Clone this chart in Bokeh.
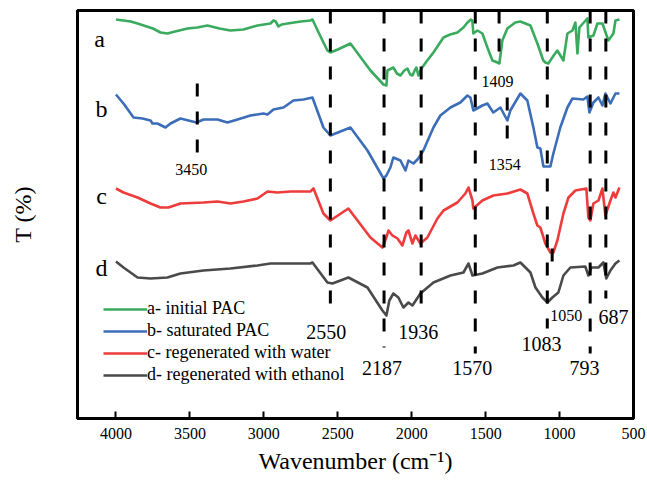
from bokeh.plotting import figure
from bokeh.models import Range1d, FixedTicker, Legend, LegendItem, ColumnDataSource
from bokeh.embed import file_html
from bokeh.resources import INLINE
from bokeh.core.properties import value

# ---------------- data ----------------
wn_a = [4000, 3900, 3854, 3750, 3699, 3652, 3600, 3516, 3450, 3381, 3300, 3226, 3138, 3043, 2955, 2935,
        2920, 2901, 2880, 2840, 2750, 2685, 2671, 2620, 2570, 2550, 2500, 2414, 2279, 2191, 2171, 2164,
        2124, 2100, 2076, 2050, 2029, 2010, 1995, 1980, 1968, 1955, 1934, 1900, 1853, 1785, 1740, 1691,
        1650, 1623, 1600, 1590, 1583, 1556, 1522, 1488, 1454, 1420, 1407, 1387, 1353, 1300, 1265, 1197,
        1150, 1110, 1096, 1076, 1040, 1015, 974, 947, 913, 893, 879, 866, 812, 805, 771, 744, 710, 670,
        636, 622, 595]
t_a = [399, 397, 395, 390, 386, 385, 387, 390, 391, 393, 390, 388, 389, 393, 395, 398,
       397, 392, 394, 395, 397, 398, 399, 383, 368, 366, 369, 375, 348, 334, 333, 348,
       351, 345, 343, 348, 350, 344, 343, 348, 351, 343, 350, 357, 366, 381, 384, 386,
       391, 396, 399, 398, 385, 388, 385, 371, 358, 356, 355, 378, 390, 396, 397, 393,
       375, 358, 356, 355, 363, 368, 358, 385, 388, 396, 365, 391, 400, 381, 383, 395, 395, 378,
       385, 398, 399]

wn_b = [4000, 3949, 3881, 3821, 3766, 3753, 3719, 3665, 3631, 3564, 3455, 3408, 3313, 3246, 3178, 3090,
        3002, 2975, 2935, 2867, 2800, 2732, 2671, 2597, 2550, 2482, 2414, 2299, 2191, 2171, 2144, 2124,
        2076, 2042, 2022, 1988, 1955, 1921, 1853, 1806, 1738, 1671, 1623, 1603, 1583, 1522, 1488, 1448,
        1400, 1353, 1333, 1265, 1218, 1177, 1150, 1130, 1109, 1062, 1042, 995, 947, 913, 839, 812, 798,
        771, 737, 710, 690, 656, 622, 595]
t_b = [324, 315, 301, 300, 298, 295, 295, 291, 295, 300, 296, 299, 299, 296, 299, 303,
       305, 304, 309, 311, 318, 319, 321, 291, 283, 287, 291, 268, 240, 243, 251, 261,
       258, 248, 258, 255, 260, 268, 291, 303, 311, 316, 323, 321, 308, 313, 315, 306,
       311, 298, 308, 325, 318, 291, 271, 270, 252, 252, 265, 291, 311, 320, 319, 322, 306,
       316, 321, 313, 325, 315, 325, 325]

wn_c = [4000, 3949, 3854, 3766, 3699, 3645, 3564, 3408, 3313, 3226, 3138, 3043, 2975, 2908, 2820, 2685,
        2664, 2597, 2550, 2428, 2279, 2198, 2171, 2157, 2130, 2096, 2063, 2036, 2022, 1995, 1975, 1941,
        1894, 1826, 1785, 1691, 1637, 1616, 1589, 1583, 1522, 1448, 1353, 1265, 1218, 1177, 1150, 1130,
        1096, 1062, 1042, 1015, 974, 940, 893, 819, 805, 792, 771, 737, 710, 690, 656, 636, 622, 595]
t_c = [230, 226, 221, 215, 211, 211, 215, 216, 217, 215, 217, 220, 227, 226, 227, 227,
       230, 205, 198, 210, 181, 171, 181, 188, 183, 180, 173, 186, 188, 175, 183, 175,
       181, 200, 208, 216, 225, 231, 218, 210, 218, 223, 225, 229, 225, 205, 193, 191,
       175, 166, 166, 178, 205, 221, 228, 230, 201, 198, 215, 218, 230, 203, 218, 226, 221, 231]

wn_d = [4000, 3949, 3854, 3766, 3652, 3564, 3408, 3226, 3043, 2955, 2685, 2671, 2570, 2536, 2428, 2299,
        2198, 2171, 2151, 2124, 2090, 2056, 2022, 1995, 1968, 1941, 1853, 1738, 1650, 1616, 1589, 1522,
        1420, 1312, 1265, 1197, 1163, 1116, 1082, 1049, 1008, 974, 927, 826, 805, 785, 737, 704, 684,
        656, 622, 595]
t_d = [157, 151, 141, 140, 141, 145, 148, 150, 153, 155, 155, 156, 136, 135, 141, 131,
       108, 103, 118, 125, 121, 111, 116, 113, 119, 125, 136, 143, 146, 155, 143, 145,
       151, 153, 156, 146, 131, 121, 116, 121, 126, 143, 151, 152, 143, 151, 151, 156, 140,
       148, 155, 158]

series_labels = ["a- initial PAC", "b- saturated PAC", "c- regenerated with water",
                 "d- regenerated with ethanol"]
curve_letters = ["a", "b", "c", "d"]
x_ticks = [4000, 3500, 3000, 2500, 2000, 1500, 1000, 500]
peak_wn = [3450, 2550, 2187, 1936, 1570, 1409, 1354, 1083, 1050, 793, 687]
peak_text = ["3450", "2550", "2187", "1936", "1570", "1409", "1354", "1083", "1050", "793", "687"]

# ---------------- layout / style ----------------
FONT = "Liberation Serif"
colors = ["#3aab5e", "#3c6db8", "#ee3b3b", "#4a4a4a"]

p = figure(width=647, height=485, x_range=Range1d(4260, 500), y_range=Range1d(0, 408),
           output_backend="svg", toolbar_location=None,
           min_border_left=77, min_border_right=14, min_border_top=10, min_border_bottom=67)
p.xgrid.visible = False
p.ygrid.visible = False
p.outline_line_color = "black"
p.outline_line_width = 3
p.outline_line_alpha = 1.0
p.background_fill_color = "white"
p.border_fill_color = "white"

p.xaxis.ticker = FixedTicker(ticks=x_ticks, minor_ticks=[])
p.xaxis.major_tick_in = 7
p.xaxis.major_tick_out = 0
p.xaxis.major_tick_line_width = 2
p.xaxis.major_tick_line_color = "black"
p.xaxis.minor_tick_line_color = None
p.xaxis.axis_line_width = 3
p.xaxis.axis_line_color = "black"
p.xaxis.major_label_text_font = FONT
p.xaxis.major_label_text_font_size = "16px"
p.xaxis.major_label_text_color = "black"
p.xaxis.major_label_standoff = 9
p.xaxis.axis_label = "Wavenumber (cm\u207b\u00b9)"
p.xaxis.axis_label_text_font = FONT
p.xaxis.axis_label_text_font_size = "24px"
p.xaxis.axis_label_text_font_style = "normal"
p.xaxis.axis_label_text_color = "black"
p.xaxis.axis_label_standoff = 6

p.yaxis.ticker = FixedTicker(ticks=[], minor_ticks=[])
p.yaxis.axis_line_width = 3
p.yaxis.axis_line_color = "black"
p.yaxis.axis_label = "T (%)"
p.yaxis.axis_label_text_font = FONT
p.yaxis.axis_label_text_font_size = "24px"
p.yaxis.axis_label_text_font_style = "normal"
p.yaxis.axis_label_text_color = "black"
p.yaxis.axis_label_standoff = 42

renderers = []
for wn, t, c in zip([wn_a, wn_b, wn_c, wn_d], [t_a, t_b, t_c, t_d], colors):
    r = p.line(wn, t, line_color=c, line_width=2.6, line_join="round")
    renderers.append(r)

# dashed peak markers (top, bottom in plot units)
dash_top = [335, 408, 408, 408, 408, 408, 321, 408, 170, 408, 408]
dash_bot = [266, 113, 71, 100, 65, 355, 280, 90, 148, 65, 120]
p.segment(x0=peak_wn, y0=dash_top, x1=peak_wn, y1=dash_bot, line_color="black",
          line_width=3, line_dash="13 15")

# peak labels
lab_x = [3491, 2577, 2200, 1955, 1591, 1420, 1370, 1123, 954, 832, 636]
lab_y = [249, 87, 51, 87, 51, 337, 254, 75, 103, 51, 102]
lab_size = ["16px", "20px", "20px", "20px", "20px", "16px", "16px", "20px", "16px", "20px", "20px"]
src = ColumnDataSource(dict(x=lab_x, y=lab_y, text=peak_text, size=lab_size))
p.text(x="x", y="y", text="text", source=src, text_font=value(FONT), text_font_size="size",
       text_align="center", text_baseline="middle", text_color="black")

# curve letters
p.text(x=[4110, 4098, 4098, 4098], y=[380, 310, 223, 151], text=curve_letters,
       text_font=value(FONT), text_font_size="24px", text_align="center",
       text_baseline="alphabetic", text_color="black")

legend = Legend(items=[LegendItem(label=l, renderers=[r]) for l, r in zip(series_labels, renderers)],
                location=(26, 33), padding=0, margin=0, spacing=1, glyph_width=44, glyph_height=20,
                label_height=20, label_standoff=0, border_line_color=None,
                background_fill_alpha=0.0, label_text_font=FONT, label_text_font_size="18px",
                label_text_color="black")
p.add_layout(legend)

open("out.html", "w").write(file_html(p, INLINE))
